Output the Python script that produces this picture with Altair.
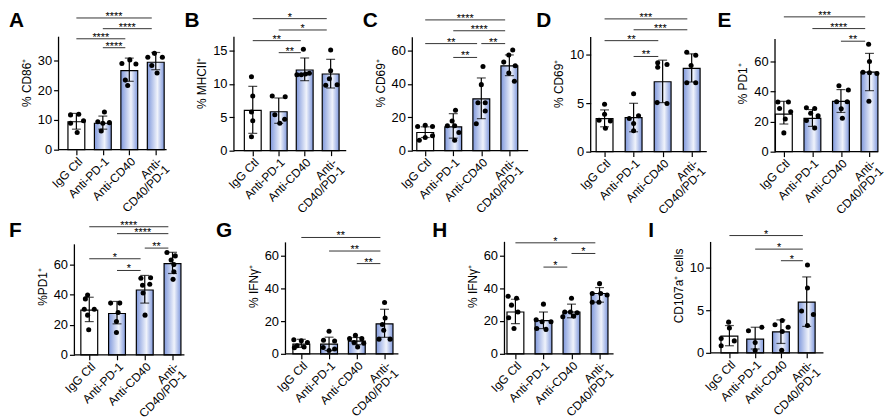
import json
import altair as alt
import pandas as pd

FONT = "Liberation Sans"
GROUPS = ["IgG Ctl", "Anti-PD-1", "Anti-CD40", "Anti-CD40/PD-1"]

# ---------------- Panel A : % CD86+
A_mean = [9.4, 8.9, 26.6, 29.4]
A_lo = [6.9, 6.9, 23.0, 26.9]
A_hi = [12.2, 11.3, 30.8, 32.7]
A_pts = [[11.7, 11.9, 9.7, 8.9, 5.8], [12.7, 9.4, 9.1, 8.9, 6.3],
         [29.0, 30.2, 28.8, 23.4, 21.6], [32.4, 31.1, 31.1, 28.3, 25.8]]
A_jit = [[-0.22, 0.09, 0.27, -0.22, 0.03], [0.06, -0.19, 0.25, 0.0, -0.06],
         [-0.28, 0.02, 0.25, -0.15, -0.06], [-0.05, -0.3, 0.25, -0.15, 0.05]]
A_sig = [(0, 3, 44.3, "****"), (1, 3, 40.7, "****"), (0, 2, 37.3, "****"), (1, 2, 34.3, "****")]
A_yticks = [0, 10, 20, 30]
A_ytop = 38
A_title = "% CD86⁺"

# ---------------- Panel B : % MHCII+
B_mean = [6.04, 5.84, 12.1, 11.5]
B_lo = [2.6, 4.1, 10.5, 9.4]
B_hi = [9.65, 7.9, 13.9, 13.7]
B_pts = [[11.1, 8.2, 5.8, 4.5, 2.1], [8.2, 8.1, 5.4, 4.7, 4.1],
         [15.2, 11.4, 11.4, 11.5, 11.6], [15.1, 12.0, 10.8, 9.8, 9.9]]
B_jit = [[-0.05, 0.0, -0.05, 0.0, -0.05], [-0.25, 0.25, -0.15, 0.23, 0.04],
         [-0.05, -0.3, -0.13, 0.03, 0.18], [0.0, 0.0, -0.05, -0.19, 0.25]]
B_sig = [(0, 3, 19.8, "*"), (1, 3, 18.1, "*"), (0, 2, 16.5, "**"), (1, 2, 14.7, "**")]
B_yticks = [0, 5, 10, 15]
B_ytop = 17.1
B_title = "% MHCII⁺"

# ---------------- Panel C : % CD69+
C_mean = [10.9, 14.3, 31.1, 50.9]
C_lo = [7.9, 7.5, 19.2, 45.0]
C_hi = [14.3, 22.2, 43.6, 57.4]
C_pts = [[14.5, 15.2, 14.5, 6.3, 7.9, 8.9], [24.2, 17.8, 14.9, 14.9, 10.9, 6.3],
         [50.5, 39.6, 28.7, 28.7, 23.8, 16.2], [60.4, 57.4, 53.1, 50.9, 46.5, 41.6]]
C_jit = [[-0.27, 0.0, 0.26, -0.21, 0.0, 0.26], [0.08, -0.04, 0.05, -0.21, 0.2, 0.05],
         [0.06, 0.0, -0.12, 0.14, 0.14, -0.18], [0.12, -0.02, -0.2, 0.21, -0.02, 0.18]]
C_sig = [(0, 3, 78.4, "****"), (1, 3, 71.9, "****"), (0, 2, 64.2, "**"), (2, 3, 64.2, "**"), (1, 2, 55.9, "**")]
C_yticks = [0, 20, 40, 60]
C_ytop = 68
C_title = "% CD69⁺"

# ---------------- Panel D : % CD69+
D_mean = [3.41, 3.5, 7.2, 8.57]
D_lo = [2.56, 2.05, 5.05, 7.17]
D_hi = [4.3, 4.98, 9.42, 10.07]
D_pts = [[4.88, 3.86, 3.24, 3.17, 2.42], [5.97, 3.69, 3.41, 2.9, 2.15],
         [9.15, 8.7, 8.98, 5.05, 4.95], [10.24, 9.93, 8.87, 7.1, 7.1]]
D_jit = [[0.0, 0.0, -0.19, 0.2, 0.03], [0.0, 0.17, -0.15, 0.0, 0.0],
         [-0.17, -0.17, 0.15, -0.19, 0.15], [-0.17, 0.14, -0.02, -0.17, 0.14]]
D_sig = [(0, 3, 13.67, "***"), (1, 3, 12.55, "***"), (0, 2, 11.43, "**"), (1, 2, 9.8, "**")]
D_yticks = [0, 5, 10]
D_ytop = 11.8
D_title = "% CD69⁺"

# ---------------- Panel E : % PD1+
E_mean = [25.0, 22.2, 33.5, 52.9]
E_lo = [18.4, 16.8, 26.1, 40.6]
E_hi = [33.5, 28.0, 41.3, 65.4]
E_pts = [[33.0, 33.0, 28.7, 26.6, 21.8, 12.5], [29.2, 28.7, 25.5, 23.8, 20.7, 15.8],
         [43.8, 41.0, 33.2, 33.2, 28.5, 22.2], [71.5, 60.0, 52.9, 52.5, 52.0, 33.5]]
E_jit = [[-0.21, 0.16, -0.15, 0.24, 0.05, 0.0], [-0.21, 0.08, -0.06, 0.2, -0.21, 0.08],
         [-0.07, 0.26, -0.15, 0.22, 0.01, 0.05], [-0.03, 0.0, -0.23, 0.0, 0.26, -0.02]]
E_sig = [(0, 3, 89.7, "***"), (1, 3, 81.9, "****"), (2, 3, 73.5, "**")]
E_yticks = [0, 20, 40, 60]
E_ytop = 75
E_title = "% PD1⁺"

# ---------------- Panel F : %PD1+
F_mean = [29.7, 27.5, 43.1, 60.6]
F_lo = [22.1, 20.6, 34.4, 54.1]
F_hi = [38.3, 35.5, 52.8, 68.2]
F_pts = [[39.8, 37.2, 30.3, 30.3, 26.4, 16.7], [34.4, 34.4, 28.1, 22.1, 14.9],
         [50.9, 51.3, 46.3, 47.0, 41.1, 26.4], [68.0, 65.8, 63.0, 60.0, 55.2, 50.2]]
F_jit = [[-0.06, -0.14, -0.18, 0.18, -0.06, -0.02], [-0.23, 0.1, 0.04, -0.02, -0.02],
         [-0.14, 0.21, -0.08, 0.18, -0.06, 0.01], [-0.2, 0.1, -0.05, 0.05, 0.05, 0.02]]
F_sig = [(0, 3, 85.2, "****"), (1, 3, 80.6, "****"), (2, 3, 71.0, "**"), (0, 2, 63.9, "*"), (1, 2, 56.1, "*")]
F_yticks = [0, 20, 40, 60]
F_ytop = 73.5
F_title = "%PD1⁺"

# ---------------- Panel G : % IFNγ+
G_mean = [5.9, 5.9, 7.8, 18.4]
G_lo = [3.9, 2.0, 5.6, 10.1]
G_hi = [8.9, 10.2, 10.0, 27.3]
G_pts = [[8.6, 8.0, 7.0, 5.0, 4.2, 3.8], [13.8, 8.3, 7.9, 3.9, 3.0, 2.0],
         [11.3, 9.3, 9.3, 7.0, 6.5, 4.2], [31.5, 22.0, 18.0, 14.5, 9.0, 9.0]]
G_jit = [[-0.27, 0.0, 0.22, -0.15, 0.1, -0.25], [0.0, -0.2, 0.2, -0.21, 0.2, 0.0],
         [-0.05, -0.26, 0.18, -0.1, 0.25, 0.03], [0.0, 0.02, -0.08, -0.03, -0.2, 0.2]]
G_sig = [(0, 3, 71.3, "**"), (1, 3, 63.0, "**"), (2, 3, 55.3, "**")]
G_yticks = [0, 20, 40, 60]
G_ytop = 68.3
G_title = "% IFNγ⁺"

# ---------------- Panel H : % IFNγ+
H_mean = [25.5, 20.2, 25.5, 36.8]
H_lo = [18.4, 15.4, 22.0, 31.5]
H_hi = [33.3, 25.5, 30.3, 40.4]
H_pts = [[35.1, 33.9, 29.7, 25.5, 22.0, 15.4], [30.3, 20.8, 19.6, 19.6, 15.4, 14.9],
         [33.9, 25.5, 25.5, 25.0, 22.6, 23.0], [42.8, 36.8, 36.8, 35.9, 31.5, 31.5]]
H_jit = [[-0.26, 0.04, -0.14, 0.09, -0.24, -0.05], [0.0, -0.26, -0.05, 0.27, -0.24, 0.09],
         [0.0, -0.24, -0.04, 0.2, -0.31, 0.08], [0.0, -0.26, 0.04, 0.27, -0.26, -0.02]]
H_sig = [(0, 3, 67.7, "*"), (2, 3, 61.2, "*"), (1, 2, 52.9, "*")]
H_yticks = [0, 20, 40, 60]
H_ytop = 68.3
H_title = "% IFNγ⁺"

# ---------------- Panel I : CD107a+ cells
I_mean = [1.97, 1.6, 2.46, 5.95]
I_lo = [0.83, 0.45, 1.1, 3.1]
I_hi = [3.2, 3.0, 3.86, 8.9]
I_pts = [[3.6, 2.9, 1.67, 1.4, 0.83], [2.6, 3.0, 1.2, 0.27],
         [3.8, 3.3, 3.0, 2.5, 0.3], [10.3, 7.6, 4.9, 4.5, 3.2]]
I_jit = [[-0.03, 0.0, -0.32, 0.19, -0.32], [-0.26, 0.26, 0.0, 0.0],
         [0.05, -0.23, 0.28, 0.05, 0.03], [0.03, 0.03, -0.2, 0.26, 0.03]]
I_sig = [(0, 3, 13.75, "*"), (1, 3, 12.16, "*"), (2, 3, 10.8, "*")]
I_yticks = [0, 5, 10]
I_ytop = 13
I_title = "CD107a⁺ cells"

# ---------------- layout (plot sizes, scale ranges, label placement)
LAYOUT = {
    "A": dict(w=177, h=136, d=26.7, umin=-0.674, uend=3.41, ymax=45.33, inset=0, lx=-50, ly=12),
    "B": dict(w=180, h=137, d=26.2, umin=-0.725, uend=3.6, ymax=20.36, inset=0, lx=-50, ly=12),
    "C": dict(w=180, h=137, d=28.3, umin=-0.46, uend=3.67, ymax=81.4, inset=0, lx=-50, ly=12),
    "D": dict(w=186, h=138, d=29.3, umin=-0.478, uend=3.52, ymax=14.08, inset=0, lx=-55, ly=12),
    "E": dict(w=104, h=138, d=28.8, umin=-0.31, uend=3.30, ymax=91.0, inset=0, lx=-58, ly=12),
    "F": dict(w=229, h=138, d=28.0, umin=-0.536, uend=3.43, ymax=90.97, inset=16, lx=-50, ly=19),
    "G": dict(w=221, h=137, d=28.0, umin=-0.571, uend=3.5, ymax=83.2, inset=0, lx=-70, ly=19),
    "H": dict(w=208, h=137, d=28.3, umin=-0.39, uend=3.5, ymax=82.8, inset=0, lx=-73, ly=19),
    "I": dict(w=114, h=136, d=26.0, umin=-0.73, uend=3.65, ymax=15.8, inset=0, lx=-63, ly=19),
}

label_list = [g if g != GROUPS[3] else ["Anti-", "CD40/PD-1"] for g in GROUPS]
LABEL_EXPR = json.dumps(label_list) + "[datum.value]"

GRAD = alt.Gradient(
    gradient="linear", x1=0, x2=1, y1=0, y2=0,
    stops=[alt.GradientStop(offset=0, color="#7f98dc"),
           alt.GradientStop(offset=0.6, color="#f0f3fb"),
           alt.GradientStop(offset=1, color="#7f98dc")],
)


def build(key, mean, lo, hi, pts, jit, sig, yticks, ytop, ytitle):
    L = LAYOUT[key]
    x0 = L["umin"] - L["inset"] / L["d"]
    x1 = x0 + L["w"] / L["d"]
    xs = alt.Scale(domain=[x0, x1], nice=False, zero=False, padding=0)
    ys = alt.Scale(domain=[0, L["ymax"]], nice=False, zero=True, padding=0)
    xax = alt.Axis(values=[0, 1, 2, 3], labelExpr=LABEL_EXPR, title=None, domain=False, grid=False,
                   labelAngle=-45, labelAlign="right", labelBaseline="top", labelOverlap=False,
                   labelFlush=False, tickSize=5, labelPadding=1, labelLineHeight=11, labelFontSize=12)
    yax = alt.Axis(values=yticks, title=ytitle, domain=False, grid=False, tickSize=5, labelPadding=2,
                   labelFlush=False, labelOverlap=False, offset=-L["inset"], titlePadding=4,
                   labelFontSize=13)

    def X(f):
        return alt.X(f, type="quantitative", scale=xs, axis=xax)

    def Y(f):
        return alt.Y(f, type="quantitative", scale=ys, axis=yax)

    bdf = pd.DataFrame({"g": [0, 1, 2, 3], "grp": GROUPS, "m": mean, "lo": lo, "hi": hi})
    pdf = pd.DataFrame([{"x": g + j, "v": v} for g in range(4) for v, j in zip(pts[g], jit[g])])
    sdf = pd.DataFrame([{"x1": a, "x2": b - 0.15, "xm": (a + b - 0.15) / 2, "y": y, "lab": s}
                        for a, b, y, s in sig])
    adf = pd.DataFrame({"x": [L["umin"]], "xe": [L["uend"]], "y0": [0], "yt": [ytop]})

    base = alt.Chart(bdf)
    bar_ctl = base.transform_filter("datum.g == 0").mark_bar(
        size=17, fill="white", stroke="black", strokeWidth=1.2).encode(x=X("g"), y=Y("m"))
    bar_trt = base.transform_filter("datum.g > 0").mark_bar(
        size=17, fill=GRAD, stroke="black", strokeWidth=1.2).encode(x=X("g"), y=Y("m"))
    err = base.mark_rule(color="black", strokeWidth=1.2).encode(x=X("g"), y=Y("lo"), y2="hi")
    cap_lo = base.mark_tick(orient="horizontal", size=9, thickness=1.2, color="black").encode(
        x=X("g"), y=Y("lo"))
    cap_hi = base.mark_tick(orient="horizontal", size=9, thickness=1.2, color="black").encode(
        x=X("g"), y=Y("hi"))
    dots = alt.Chart(pdf).mark_circle(size=26, color="black", opacity=1).encode(x=X("x"), y=Y("v"))
    ach = alt.Chart(adf)
    yline = ach.mark_rule(color="black", strokeWidth=1.3).encode(x=X("x"), y=Y("y0"), y2="yt")
    xline = ach.mark_rule(color="black", strokeWidth=1.3).encode(x=X("x"), x2="xe", y=Y("y0"))
    sch = alt.Chart(sdf)
    slines = sch.mark_rule(color="#333333", strokeWidth=1).encode(x=X("x1"), x2="x2", y=Y("y"))
    stars = sch.mark_text(fontSize=11, baseline="alphabetic", dy=2, color="black").encode(
        x=X("xm"), y=Y("y"), text="lab:N")
    letter = alt.Chart(pd.DataFrame({"t": [key]})).mark_text(
        align="left", baseline="alphabetic", fontSize=21, fontWeight="bold", color="black",
        x=L["lx"], y=L["ly"]).encode(text="t:N")
    return alt.layer(bar_ctl, bar_trt, err, cap_lo, cap_hi, dots, yline, xline, slines, stars,
                     letter).properties(width=L["w"], height=L["h"])


top_row = alt.hconcat(
    build("A", A_mean, A_lo, A_hi, A_pts, A_jit, A_sig, A_yticks, A_ytop, A_title),
    build("B", B_mean, B_lo, B_hi, B_pts, B_jit, B_sig, B_yticks, B_ytop, B_title),
    build("C", C_mean, C_lo, C_hi, C_pts, C_jit, C_sig, C_yticks, C_ytop, C_title),
    build("D", D_mean, D_lo, D_hi, D_pts, D_jit, D_sig, D_yticks, D_ytop, D_title),
    build("E", E_mean, E_lo, E_hi, E_pts, E_jit, E_sig, E_yticks, E_ytop, E_title),
    spacing=0, bounds="flush",
)
bottom_row = alt.hconcat(
    build("F", F_mean, F_lo, F_hi, F_pts, F_jit, F_sig, F_yticks, F_ytop, F_title),
    build("G", G_mean, G_lo, G_hi, G_pts, G_jit, G_sig, G_yticks, G_ytop, G_title),
    build("H", H_mean, H_lo, H_hi, H_pts, H_jit, H_sig, H_yticks, H_ytop, H_title),
    build("I", I_mean, I_lo, I_hi, I_pts, I_jit, I_sig, I_yticks, I_ytop, I_title),
    spacing=0, bounds="flush",
)

chart = alt.vconcat(top_row, bottom_row, spacing=0).properties(
    padding={"top": -1, "left": 0, "right": 0, "bottom": 20}
).configure_view(stroke="transparent").configure_axis(
    labelFont=FONT, titleFont=FONT, titleFontSize=12, labelColor="black",
    titleColor="black", tickColor="black", tickWidth=1.2, titleFontWeight="normal"
).configure_text(font=FONT)

chart.save("out.html", embed_options={"renderer": "svg", "actions": False})
